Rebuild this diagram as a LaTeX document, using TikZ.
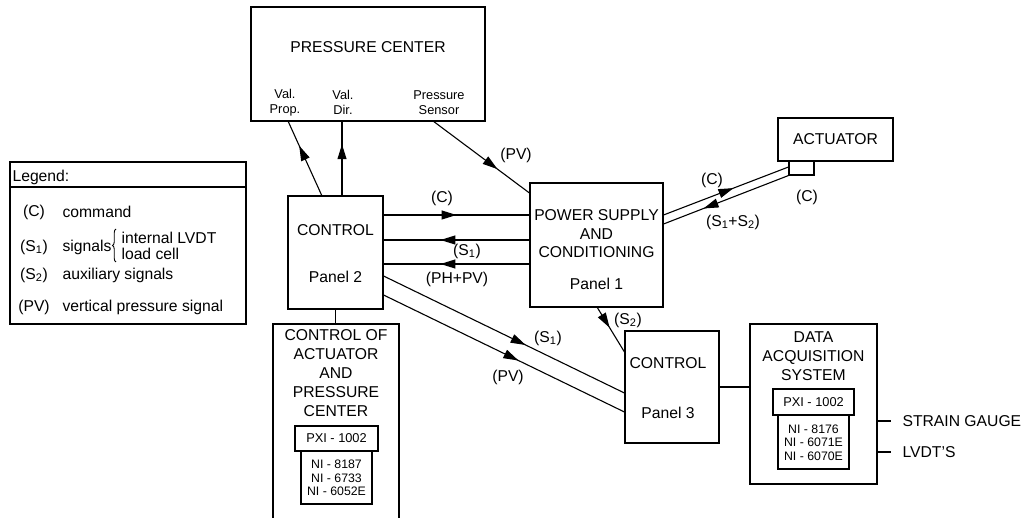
\documentclass[tikz,border=0pt]{standalone}
\usepackage{fontspec}
\setmainfont{Liberation Sans}
\usetikzlibrary{arrows.meta,decorations.markings,decorations.pathreplacing}
\begin{document}
\begin{tikzpicture}[x=1pt,y=-1pt, line width=1.1pt,
 box/.style={draw, rectangle, inner sep=0pt},
 lbl/.style={font=\fontsize{15.7}{18.5}\selectfont, inner sep=0pt, align=center},
 small/.style={font=\fontsize{12.8}{15}\selectfont, inner sep=0pt, align=center},
 tiny/.style={font=\fontsize{12.3}{13.5}\selectfont, inner sep=0pt, align=center},
 midarrow/.style={decoration={markings, mark=at position #1 with {\arrow{Triangle[length=15pt,width=9pt]}}}, postaction={decorate}},
]
\useasboundingbox (0,0) rectangle (1023,518);

% Pressure center
\node[box, minimum width=234pt, minimum height=114pt] (pc) at (368,64) {};
\node[lbl] (pct) at (368,47) {PRESSURE CENTER};
\node[small] (vp) at (285,102.5) {Val.\\Prop.};
\node[small] (vd) at (343,102.5) {Val.\\Dir.};
\node[small] (ps) at (439,102.5) {Pressure\\Sensor};
\coordinate (pcvp) at (288,121);
\coordinate (pcvd) at (342,121);
\coordinate (pcps) at (433,121);

% Control panel 2
\node[box, minimum width=95pt, minimum height=113pt] (c2) at (335.5,252.5) {};
\node[lbl] (c2a) at (335.5,230) {CONTROL};
\node[lbl] (c2b) at (335.5,277) {Panel 2};
\coordinate (c2vp) at (322,196);
\coordinate (c2vd) at (342,196);

% Power supply
\node[box, minimum width=133pt, minimum height=124pt] (psu) at (596.5,245) {};
\node[lbl] (psut) at (596.5,234) {POWER SUPPLY\\AND\\CONDITIONING};
\node[lbl] (psup) at (596.5,284) {Panel 1};

% Actuator
\node[box, minimum width=115pt, minimum height=43pt] (act) at (835.5,139.5) {};
\node[lbl] (actt) at (835.5,139.5) {ACTUATOR};
\node[box, minimum width=25pt, minimum height=14pt] (actb) at (801.5,168) {};

% Panel 3
\node[box, minimum width=94pt, minimum height=112pt] (c3) at (672,387) {};
\node[lbl] (c3a) at (668,363) {CONTROL};
\node[lbl] (c3b) at (668,413) {Panel 3};

% DAQ
\node[box, minimum width=127pt, minimum height=160pt] (daq) at (813.5,404) {};
\node[lbl, font=\fontsize{15.7}{19}\selectfont] (daqt) at (813.5,356) {DATA\\ACQUISITION\\SYSTEM};
\node[box, minimum width=81pt, minimum height=26pt] (dpxi) at (813.5,402) {};
\node[small] at (dpxi) {PXI - 1002};
\node[box, minimum width=71pt, minimum height=54pt] (dni) at (813.5,442) {};
\node[tiny] at (813.5,442.5) {NI - 8176\\NI - 6071E\\NI - 6070E};
\coordinate (sg) at (891,421);
\coordinate (lv) at (891,452);
\node[lbl, anchor=west] (sgt) at (902,421) {STRAIN GAUGE};
\node[lbl, anchor=west] (lvt) at (902,452) {LVDT'S};
\draw (daq.east |- sg) -- (sg);
\draw (daq.east |- lv) -- (lv);

% Control of actuator and pressure center
\draw (273,518) -- (273,324) -- (399,324) -- (399,518);
\coordinate (catop) at (335.5,324);
\node[lbl, font=\fontsize{15.7}{19}\selectfont] (catt) at (336,373) {CONTROL OF\\ACTUATOR\\AND\\PRESSURE\\CENTER};
\node[box, minimum width=83pt, minimum height=25pt] (cpxi) at (336.5,438.5) {};
\node[small] at (cpxi) {PXI - 1002};
\node[box, minimum width=71pt, minimum height=53pt] (cni) at (336.5,477.5) {};
\node[tiny] at (336.5,478) {NI - 8187\\NI - 6733\\NI - 6052E};

% Legend
\node[box, minimum width=236pt, minimum height=162pt] (leg) at (128,243) {};
\draw (leg.west |- 0,187) -- (leg.east |- 0,187);
\node[lbl, anchor=west] (legt) at (12,177) {Legend:};
\node[lbl] (l1) at (34,212) {(C)};
\node[lbl, anchor=west] (l1t) at (62,212) {command};
\node[lbl] (l2) at (34,247) {(S\textsubscript{1})};
\node[lbl, anchor=west] (l2t) at (62,247) {signals};
\draw[line width=0.9pt, decorate, decoration={brace, amplitude=3.5pt}] (116,262) -- (116,229);
\node[lbl, anchor=west] (l2a) at (121,238) {internal LVDT};
\node[lbl, anchor=west] (l2b) at (121,254) {load cell};
\node[lbl] (l3) at (34,275) {(S\textsubscript{2})};
\node[lbl, anchor=west] (l3t) at (62,275) {auxiliary signals};
\node[lbl] (l4) at (34,307) {(PV)};
\node[lbl, anchor=west] (l4t) at (62,307) {vertical pressure signal};

% Connectors
\draw[midarrow=0.67] (c2vp) -- (pcvp);
\draw[midarrow=0.69] (c2vd) -- (pcvd);
\draw[midarrow=0.67] (pcps) -- (psu.west |- 0,193);
\node[lbl] (lpv) at (516,155) {(PV)};

\draw[midarrow=0.5] (c2.east |- 0,215) -- (psu.west |- 0,215);
\node[lbl] (lc) at (442,198) {(C)};
\draw[midarrow=0.61] (psu.west |- 0,240) -- (c2.east |- 0,240);
\node[lbl] (ls1) at (467,251) {(S\textsubscript{1})};
\draw[midarrow=0.61] (psu.west |- 0,264) -- (c2.east |- 0,264);
\node[lbl] (lph) at (457,279) {(PH+PV)};

\draw[midarrow=0.59] (c2.east |- 0,276) -- (c3.west |- 0,393);
\node[lbl] (ls1b) at (548,338) {(S\textsubscript{1})};
\draw[midarrow=0.56] (c2.east |- 0,295) -- (c3.west |- 0,412);
\node[lbl] (lpvb) at (508,377) {(PV)};

\draw[midarrow=0.46] (597,307) -- (c3.west |- 0,352);
\node[lbl] (ls2) at (628,320) {(S\textsubscript{2})};

\draw[midarrow=0.56] (psu.east |- 0,215) -- (actb.west |- 0,167);
\draw[midarrow=0.68] (actb.south west) -- (psu.east |- 0,224);
\node[lbl] (lca) at (712,180) {(C)};
\node[lbl] (ls12) at (733,222) {(S\textsubscript{1}+S\textsubscript{2})};
\node[lbl] (lcb) at (807,197) {(C)};

\draw (c3.east |- 0,387) -- (daq.west |- 0,387);
\draw (c2.south) -- (catop);
\end{tikzpicture}
\end{document}
